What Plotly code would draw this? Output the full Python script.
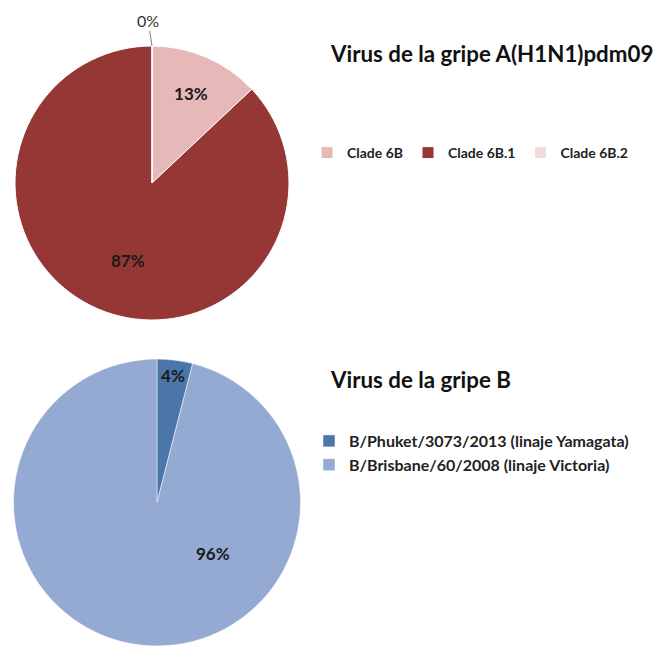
import plotly.graph_objects as go

# Data
a_labels = ["Clade 6B", "Clade 6B.1", "Clade 6B.2"]
a_values = [13, 87, 0]
a_colors = ["#E6B9B8", "#953735", "#F2DCDB"]

b_labels = ["B/Phuket/3073/2013 (linaje Yamagata)", "B/Brisbane/60/2008 (linaje Victoria)"]
b_values = [4, 96]
b_colors = ["#4A76AA", "#94AAD2"]

title_a = "Virus de la gripe A(H1N1)pdm09"
title_b = "Virus de la gripe B"

W, H = 659, 646
FONT = "Lato"


def px(x):
    return min(max(x / W, 0), 1)


def py(y):
    return min(max(1 - y / H, 0), 1)


fig = go.Figure()

# top pie: center (152,183), r ~137
ax0, ax1 = px(15), px(289)
ay0, ay1 = py(320), py(46)
fig.add_trace(go.Pie(
    labels=a_labels, values=a_values, sort=False, direction="clockwise", rotation=0,
    marker=dict(colors=a_colors, line=dict(color="white", width=1)),
    text=[f"{a_values[0]}%", "", ""],
    textinfo="text", textposition="inside", insidetextorientation="horizontal",
    textfont=dict(family=FONT, size=17, color="#1a1a1a", weight="bold"),
    domain=dict(x=[ax0, ax1], y=[ay0, ay1]),
    legend="legend", showlegend=True,
))

# bottom pie: center (157,503), r ~144
bx0, bx1 = px(13), px(301)
by0, by1 = py(647), py(359)
fig.add_trace(go.Pie(
    labels=b_labels, values=b_values, sort=False, direction="clockwise", rotation=0,
    marker=dict(colors=b_colors, line=dict(color="white", width=0.5)),
    text=[f"{b_values[0]}%", ""],
    textinfo="text", textposition="inside", insidetextorientation="horizontal",
    textfont=dict(family=FONT, size=17, color="#1a1a1a", weight="bold"),
    domain=dict(x=[bx0, bx1], y=[by0, by1]),
    legend="legend2", showlegend=True,
))

# labels of the large slices (placed as in the original)
lab_font = dict(family=FONT, size=17, color="#1a1a1a", weight="bold")
fig.add_annotation(x=px(128), y=py(260), xref="paper", yref="paper", xanchor="center", yanchor="middle",
                   text=f"{a_values[1]}%", showarrow=False, font=lab_font)
fig.add_annotation(x=px(213), y=py(553), xref="paper", yref="paper", xanchor="center", yanchor="middle",
                   text=f"{b_values[1]}%", showarrow=False, font=lab_font)

# zero-value label with leader line
fig.add_annotation(
    x=(ax0 + ax1) / 2, y=ay1, xref="paper", yref="paper",
    text=f"{a_values[2]}%", showarrow=True, arrowhead=0, arrowwidth=1, arrowcolor="#7f7f7f",
    ax=-4, ay=-26, font=dict(family=FONT, size=16, color="#333333"),
)

title_font = dict(family=FONT, size=22.3, color="#111111", weight="bold")
fig.add_annotation(x=px(328), y=py(53), xref="paper", yref="paper", xanchor="left", yanchor="middle",
                   text=title_a, showarrow=False, font=title_font)
fig.add_annotation(x=px(328), y=py(379), xref="paper", yref="paper", xanchor="left", yanchor="middle",
                   text=title_b, showarrow=False, font=title_font)

fig.update_layout(
    width=W, height=H, autosize=False,
    margin=dict(l=0, r=0, t=0, b=0),
    paper_bgcolor="white", plot_bgcolor="white",
    legend=dict(orientation="h", x=px(307), y=py(153), xanchor="left", yanchor="middle",
                font=dict(family=FONT, size=14, color="#222222", weight="bold"),
                itemwidth=30, tracegroupgap=0, bgcolor="rgba(0,0,0,0)"),
    legend2=dict(orientation="v", x=px(309), y=py(453), xanchor="left", yanchor="middle",
                 font=dict(family=FONT, size=16, color="#222222", weight="bold"),
                 tracegroupgap=0, bgcolor="rgba(0,0,0,0)"),
)

fig.write_html("out.html", config={"displayModeBar": False},
               post_script="document.body.style.margin='0';document.body.style.overflow='hidden';")
